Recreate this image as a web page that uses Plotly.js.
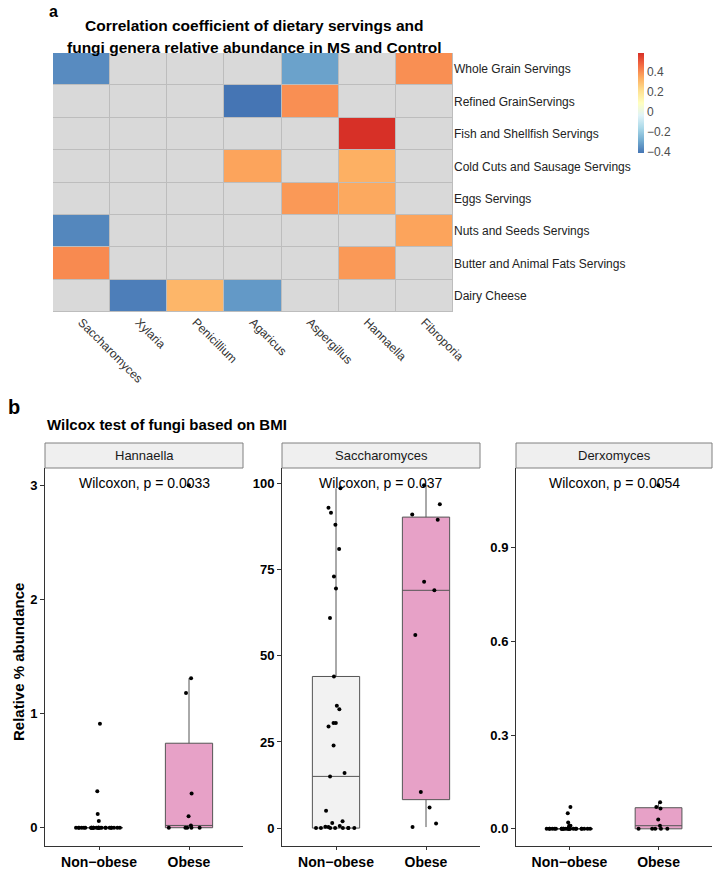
<!DOCTYPE html>
<html>
<head>
<meta charset="utf-8">
<script src="https://cdn.plot.ly/plotly-3.0.1.min.js"></script>
<style>
  body { margin: 0; background: #fff; }
  #myPlot { width: 714px; height: 871px; }
</style>
</head>
<body>
<div id="myPlot"></div>
<script>
// panel a - correlation heatmap
var genera = ["Saccharomyces", "Xylaria", "Penicillium", "Agaricus", "Aspergillus", "Hannaella", "Fibroporia"];
var servings = ["Whole Grain Servings", "Refined GrainServings", "Fish and Shellfish Servings",
    "Cold Cuts and Sausage Servings", "Eggs Servings", "Nuts and Seeds Servings",
    "Butter and Animal Fats Servings", "Dairy Cheese"];
var corr = [
    [-0.36, null, null, null, -0.31, null, 0.40],
    [null, null, null, -0.41, 0.40, null, null],
    [null, null, null, null, null, 0.59, null],
    [null, null, null, 0.36, null, 0.335, null],
    [null, null, null, null, 0.38, 0.35, null],
    [-0.37, null, null, null, null, null, 0.36],
    [0.41, null, null, null, null, 0.38, null],
    [null, -0.39, 0.32, -0.33, null, null, null]
];
var corrTicks = [-0.4, -0.2, 0, 0.2, 0.4];

// panel b - relative % abundance by BMI group
var groups = ["Non\u2212obese", "Obese"];
var fungi = ["Hannaella", "Saccharomyces", "Derxomyces"];
var pLabels = ["Wilcoxon, p = 0.0033", "Wilcoxon, p = 0.037", "Wilcoxon, p = 0.0054"];

var hannaellaNon = [0.32, 0.12, 0.06, 0.91, 0, 0, 0, 0, 0, 0, 0, 0, 0, 0, 0, 0, 0, 0, 0, 0, 0, 0, 0, 0, 0, 0, 0, 0, 0, 0, 0];
var hannaellaObese = [0.02, 0, 0, 0, 0, 0, 0.3, 0.1, 1.18, 1.31, 3.0];
var saccharoNon = [93, 88, 98.6, 91.5, 81, 73, 69.5, 61, 44, 35.5, 34.5, 30.5, 30.5, 29.5, 24, 16, 15, 5, 2, 1.5,
    0, 0, 0, 0.3, 0.6, 0, 0, 0, 0.4, 0, 0];
var saccharoObese = [99.5, 91, 89.5, 94, 71.5, 69, 56, 10.5, 6, 1.3, 0.3];
var derxoNon = [0.05, 0.07, 0.02, 0.01, 0.01, 0.005, 0, 0, 0, 0, 0, 0, 0, 0, 0, 0, 0, 0, 0, 0, 0, 0, 0, 0, 0, 0, 0, 0, 0, 0, 0];
var derxoObese = [0, 0, 0, 0, 0, 0.01, 0.03, 0.065, 0.07, 0.085, 1.1];

// box stats as drawn in the figure: [Non-obese, Obese]
var q1 = [[0, 0], [0, 8.25], [0, 0]];
var med = [[0, 0.02], [15, 69], [0, 0.01]];
var q3 = [[0, 0.74], [44, 90.25], [0, 0.0675]];
var lowFence = [[0, 0], [0, 0.3], [0, 0]];
var upFence = [[0, 1.31], [98.6, 99.5], [0, 0.085]];

var points = [[hannaellaNon, hannaellaObese], [saccharoNon, saccharoObese], [derxoNon, derxoObese]];
var yRanges = [[-0.16, 3.15], [-5.2, 104.5], [-0.055, 1.155]];
var yTicks = [[0, 1, 2, 3], [0, 25, 50, 75, 100], [0, 0.3, 0.6, 0.9]];
var yFormats = ["d", "d", ".1f"];

var FONT = "Liberation Sans, Arial, sans-serif";
var W = 714, H = 871;
function px(x) { return x / W; }
function py(y) { return 1 - y / H; }

var data = [];

// grey cells under the correlation values
data.push({
    type: "heatmap",
    x: genera, y: servings,
    z: servings.map(function () { return genera.map(function () { return 0; }); }),
    colorscale: [[0, "#D9D9D9"], [1, "#D9D9D9"]],
    showscale: false, xgap: 1, ygap: 1, hoverinfo: "skip",
    xaxis: "x", yaxis: "y"
});
data.push({
    type: "heatmap",
    x: genera, y: servings, z: corr,
    zmin: -0.41, zmax: 0.59,
    colorscale: [[0, "#4575B4"], [0.125, "#74ADD1"], [0.25, "#ABD9E9"], [0.375, "#E0F3F8"],
        [0.5, "#FFFFBF"], [0.625, "#FEE090"], [0.75, "#FDAE61"], [0.875, "#F46D43"], [1, "#D73027"]],
    xgap: 1, ygap: 1,
    colorbar: {
        x: px(638), xanchor: "left", xpad: 0,
        y: py(53), yanchor: "top", ypad: 0,
        len: 100, lenmode: "pixels", thickness: 6,
        outlinewidth: 0, ticks: "",
        tickvals: corrTicks,
        tickfont: { family: FONT, size: 12, color: "#4D4D4D" }
    },
    xaxis: "x", yaxis: "y"
});

var layout = {
    width: W, height: H,
    margin: { l: 0, r: 0, t: 0, b: 0 },
    paper_bgcolor: "#fff", plot_bgcolor: "#fff",
    showlegend: false,
    boxmode: "overlay", boxgap: 0.25,
    font: { family: FONT, color: "#000" },
    xaxis: {
        domain: [px(53), px(453)], type: "category",
        tickangle: 45, ticks: "", showgrid: false, zeroline: false,
        tickfont: { family: FONT, size: 12, color: "#333" }
    },
    yaxis: {
        domain: [py(312), py(53)], type: "category", autorange: "reversed",
        side: "right", ticks: "", showgrid: false, zeroline: false,
        tickfont: { family: FONT, size: 12, color: "#222" }
    },
    shapes: [{
        type: "rect", layer: "below", xref: "x domain", yref: "y domain",
        x0: 0, x1: 1, y0: 0, y1: 1, fillcolor: "#BDBDBD", line: { width: 0 }
    }],
    annotations: [
        { text: "<b>a</b>", x: px(47), y: py(1), xref: "paper", yref: "paper", xanchor: "left", yanchor: "top",
          showarrow: false, font: { size: 16 } },
        { text: "<b>Correlation coefficient of dietary servings and</b>", x: px(254), y: py(15),
          xref: "paper", yref: "paper", xanchor: "center", showarrow: false, font: { size: 15.5 } },
        { text: "<b>fungi genera relative abundance in MS and Control</b>", x: px(254), y: py(37),
          xref: "paper", yref: "paper", xanchor: "center", showarrow: false, font: { size: 15.5 } },
        { text: "<b>b</b>", x: px(6), y: py(407), xref: "paper", yref: "paper", xanchor: "left",
          showarrow: false, font: { size: 20 } },
        { text: "<b>Wilcox test of fungi based on BMI</b>", x: px(45), y: py(424), xref: "paper", yref: "paper",
          xanchor: "left", showarrow: false, font: { size: 15 } },
        { text: "<b>Relative % abundance</b>", x: px(18), y: py(662), xref: "paper", yref: "paper",
          xanchor: "center", yanchor: "middle", textangle: -90, showarrow: false, font: { size: 15 } }
    ]
};

var panelX = [[45, 243], [282, 480], [516, 712]];
var fills = ["#F2F2F2", "#E7A1C7"];

fungi.forEach(function (name, i) {
    var n = i + 2;
    var xa = "x" + n, ya = "y" + n;

    groups.forEach(function (g, j) {
        data.push({
            type: "box", x: [g],
            q1: [q1[i][j]], median: [med[i][j]], q3: [q3[i][j]],
            lowerfence: [lowFence[i][j]], upperfence: [upFence[i][j]],
            boxpoints: false, whiskerwidth: 0,
            fillcolor: fills[j], line: { color: "#555", width: 1 },
            hoverinfo: "skip", xaxis: xa, yaxis: ya
        });
    });

    var ys = points[i][0].concat(points[i][1]);
    var xs = points[i][0].map(function () { return groups[0]; })
        .concat(points[i][1].map(function () { return groups[1]; }));
    data.push({
        type: "box", x: xs, y: ys,
        boxpoints: "all", jitter: 1, pointpos: 0,
        fillcolor: "rgba(0,0,0,0)", line: { color: "rgba(0,0,0,0)", width: 0 },
        marker: { color: "#000", size: 4 },
        hoverinfo: "skip", xaxis: xa, yaxis: ya
    });

    layout["xaxis" + n] = {
        domain: [px(panelX[i][0]), px(panelX[i][1])], anchor: ya,
        type: "category", categoryarray: groups, range: [-0.6, 1.6],
        showline: true, linecolor: "#333", linewidth: 1,
        ticks: "outside", ticklen: 3, tickcolor: "#333",
        showgrid: false, zeroline: false,
        tickfont: { family: FONT, size: 14, color: "#000", weight: "bold" }
    };
    layout["yaxis" + n] = {
        domain: [py(846), py(468)], anchor: xa,
        range: yRanges[i], tickvals: yTicks[i], tickformat: yFormats[i],
        showline: true, linecolor: "#333", linewidth: 1,
        ticks: "outside", ticklen: 4, tickcolor: "#333",
        showgrid: false, zeroline: false,
        tickfont: { family: FONT, size: 13, color: "#000", weight: "bold" }
    };

    // facet strip
    layout.shapes.push({
        type: "rect", xref: xa + " domain", yref: "paper",
        x0: 0, x1: 1, y0: py(468), y1: py(443),
        fillcolor: "#EFEFEF", line: { color: "#808080", width: 1 }
    });
    layout.annotations.push({
        text: name, xref: xa + " domain", yref: "paper", x: 0.5, y: py(455.5),
        showarrow: false, font: { size: 13, color: "#1A1A1A" }
    });
    layout.annotations.push({
        text: pLabels[i], xref: xa + " domain", yref: "paper", x: 0.5, y: py(483),
        showarrow: false, font: { size: 14, color: "#000" }
    });
});

Plotly.newPlot("myPlot", data, layout, { staticPlot: true });
</script>
</body>
</html>
